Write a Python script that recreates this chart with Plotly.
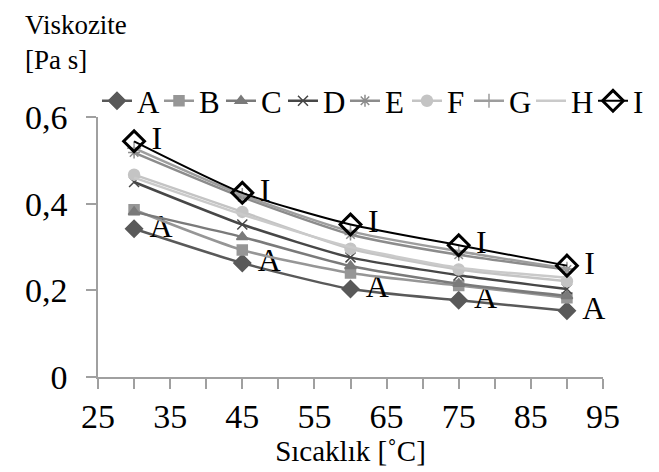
import plotly.graph_objects as go

temps = [30, 45, 60, 75, 90]
series_names = ["A", "B", "C", "D", "E", "F", "G", "H", "I"]
A = [0.342, 0.263, 0.203, 0.177, 0.153]
B = [0.386, 0.293, 0.240, 0.211, 0.183]
C = [0.381, 0.323, 0.256, 0.215, 0.187]
D = [0.450, 0.352, 0.276, 0.235, 0.203]
E = [0.518, 0.415, 0.329, 0.282, 0.248]
F = [0.467, 0.381, 0.296, 0.248, 0.221]
G = [0.528, 0.420, 0.336, 0.290, 0.250]
H = [0.460, 0.375, 0.300, 0.252, 0.229]
I = [0.544, 0.425, 0.352, 0.304, 0.257]
series_values = [A, B, C, D, E, F, G, H, I]

y_tick_vals = [0, 0.2, 0.4, 0.6]
y_tick_text = ["0", "0,2", "0,4", "0,6"]
x_tick_vals = [25, 35, 45, 55, 65, 75, 85, 95]
x_tick_text = ["25", "35", "45", "55", "65", "75", "85", "95"]

styles = {
    "A": dict(color="#595959", symbol="diamond", size=13, width=2.5),
    "B": dict(color="#969696", symbol="square", size=10, width=2.5),
    "C": dict(color="#7a7a7a", symbol="triangle-up", size=10, width=2.5),
    "D": dict(color="#474747", symbol="x-thin-open", size=10, width=2.5),
    "E": dict(color="#8c8c8c", symbol="asterisk-open", size=10, width=2.5),
    "F": dict(color="#c4c4c4", symbol="circle", size=11, width=2.5),
    "G": dict(color="#9d9d9d", symbol="cross-thin-open", size=10, width=2.5),
    "H": dict(color="#cacaca", symbol=None, size=0, width=2.5),
    "I": dict(color="#000000", symbol="diamond-open", size=16, width=2),
}
label_prefix = {"A": " ", "I": "\u2009"}

FONT = "Liberation Serif"

fig = go.Figure()
for name, vals in zip(series_names, series_values):
    st = styles[name]
    mode = "lines+markers"
    marker = dict(symbol=st["symbol"], size=st["size"], color=st["color"],
                  line=dict(color=st["color"], width=1.5))
    if name == "H":
        mode = "lines"
        marker = None
    if name == "I":
        marker = dict(symbol="diamond-open", size=16, color="#000000",
                      line=dict(color="#000000", width=3))
    text = None
    if name in ("A", "I"):
        mode += "+text"
        text = [label_prefix[name] + name] * len(vals)
    fig.add_trace(go.Scatter(
        x=temps, y=vals, name=name, mode=mode,
        line=dict(color=st["color"], width=st["width"], shape="spline", smoothing=0.6),
        marker=marker, text=text, textposition="middle right",
        textfont=dict(family=FONT, size=32, color="#000000"),
        cliponaxis=False,
    ))

fig.update_layout(
    width=659, height=472,
    margin=dict(l=90, r=64, t=109, b=103, autoexpand=False),
    paper_bgcolor="white", plot_bgcolor="white",
    font=dict(family=FONT, color="#000000"),
    showlegend=True,
    legend=dict(orientation="h", x=-0.002, xanchor="left", y=1.061, yanchor="middle",
                font=dict(family=FONT, size=31), entrywidth=17, entrywidthmode="pixels",
                itemwidth=30, tracegroupgap=0, bgcolor="rgba(0,0,0,0)"),
    annotations=[dict(text="Viskozite<br>[Pa s]", xref="paper", yref="paper",
                      x=-0.1485, y=1.42, xanchor="left", yanchor="top", align="left",
                      showarrow=False, font=dict(family=FONT, size=27))],
)
fig.update_xaxes(range=[25, 95], tickvals=x_tick_vals, ticktext=x_tick_text,
                 showgrid=False, zeroline=False, showline=True, linecolor="#a0a0a0",
                 linewidth=1.5, ticks="outside", ticklen=10, tickcolor="#a0a0a0",
                 tickwidth=1.5, tickfont=dict(family=FONT, size=34), ticklabelstandoff=-2,
                 minor=dict(tickvals=[30, 40, 50, 60, 70, 80, 90], ticks="outside",
                            ticklen=10, tickcolor="#a0a0a0", tickwidth=1.5, showgrid=False),
                 title=dict(text="Sıcaklık [˚C]", font=dict(family=FONT, size=29), standoff=2))
fig.update_yaxes(range=[0, 0.6], tickvals=y_tick_vals, ticktext=y_tick_text,
                 showgrid=False, zeroline=False, showline=True, linecolor="#a0a0a0",
                 linewidth=1.5, ticks="outside", ticklen=10, tickcolor="#a0a0a0",
                 tickwidth=1.5, tickfont=dict(family=FONT, size=34), ticklabelstandoff=12)

fig.write_html("out.html")
